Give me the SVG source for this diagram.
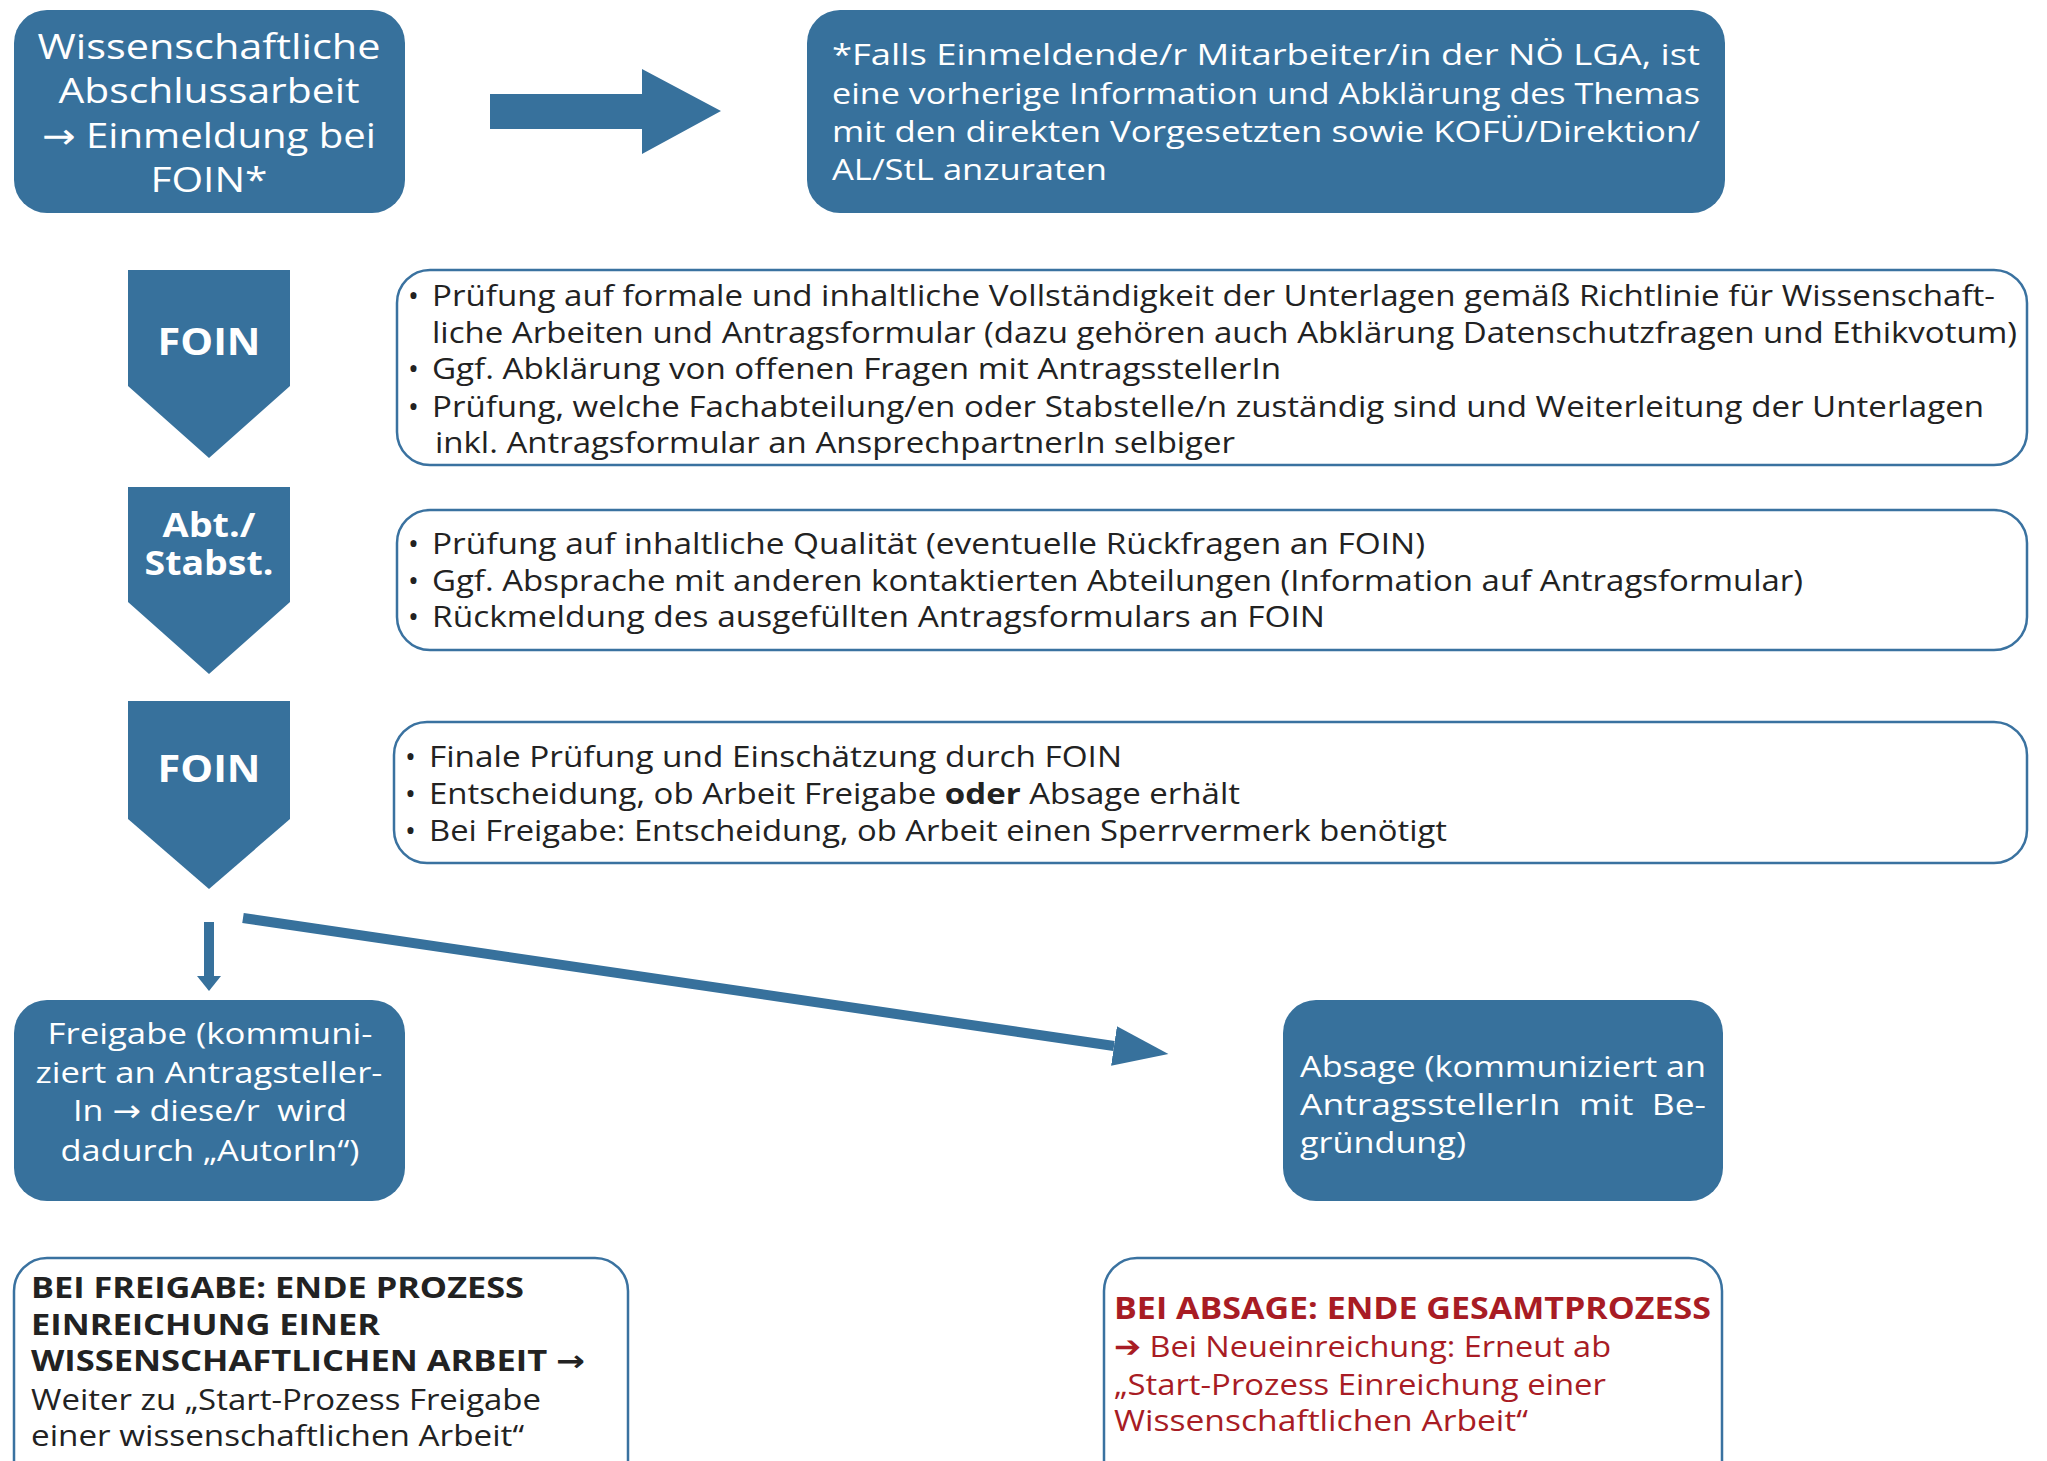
<svg xmlns="http://www.w3.org/2000/svg" width="2047" height="1461" viewBox="0 0 2047 1461">
<style>
.fill{fill:#37719c}
.out{fill:#ffffff;stroke:#3a72a0;stroke-width:2.5}
.w{fill:#ffffff;font-family:"Open Sans","Noto Sans","Liberation Sans",sans-serif}
.d{fill:#222222;font-family:"Open Sans","Noto Sans","Liberation Sans",sans-serif;font-size:29px}
.r{fill:#a81c24;font-family:"Open Sans","Noto Sans","Liberation Sans",sans-serif;font-size:30px}
.b{font-weight:bold}
.ar{font-family:"DejaVu Sans",sans-serif}
.conn{stroke:#37719c;fill:none}
</style>
<defs>
<marker id="hd" markerUnits="userSpaceOnUse" markerWidth="60" markerHeight="50" refX="0" refY="20" orient="auto" viewBox="0 0 60 50">
<path d="M0,0 L55,20 L0,40 Z" fill="#37719c"/>
</marker>
<marker id="hs" markerUnits="userSpaceOnUse" markerWidth="30" markerHeight="30" refX="0" refY="12" orient="auto" viewBox="0 0 30 30">
<path d="M0,0 L15,12 L0,24 Z" fill="#37719c"/>
</marker>
</defs>
<rect width="2047" height="1461" fill="#ffffff"/>

<g id="start">
<rect class="fill" x="14" y="10" width="391" height="203" rx="33"/>
<text class="w" font-size="35" text-anchor="middle" x="209" y="59" textLength="343" lengthAdjust="spacingAndGlyphs">Wissenschaftliche</text>
<text class="w" font-size="35" text-anchor="middle" x="209" y="103" textLength="301" lengthAdjust="spacingAndGlyphs">Abschlussarbeit</text>
<text class="w" font-size="35" text-anchor="middle" x="209" y="148" textLength="334" lengthAdjust="spacingAndGlyphs"><tspan class="ar">→</tspan> Einmeldung bei</text>
<text class="w" font-size="35" text-anchor="middle" x="209" y="192" textLength="117" lengthAdjust="spacingAndGlyphs">FOIN*</text>
</g>

<g id="bigarrow">
<path class="fill" d="M490,94 L642,94 L642,69 L721,111 L642,154 L642,129 L490,129 Z"/>
</g>

<g id="note">
<rect class="fill" x="807" y="10" width="918" height="203" rx="33"/>
<text class="w" font-size="30" x="832" y="65" textLength="868" lengthAdjust="spacingAndGlyphs">*Falls Einmeldende/r Mitarbeiter/in der NÖ LGA, ist</text>
<text class="w" font-size="30" x="832" y="104" textLength="868" lengthAdjust="spacingAndGlyphs">eine vorherige Information und Abklärung des Themas</text>
<text class="w" font-size="30" x="832" y="142" textLength="868" lengthAdjust="spacingAndGlyphs">mit den direkten Vorgesetzten sowie KOFÜ/Direktion/</text>
<text class="w" font-size="30" x="832" y="180" textLength="275" lengthAdjust="spacingAndGlyphs">AL/StL anzuraten</text>
</g>

<g id="foin1">
<path class="fill" d="M128,270 L290,270 L290,386 L209,458 L128,386 Z"/>
<text class="w b" font-size="38" text-anchor="middle" x="209" y="355" textLength="103" lengthAdjust="spacingAndGlyphs">FOIN</text>
</g>

<g id="abt">
<path class="fill" d="M128,487 L290,487 L290,602 L209,674 L128,602 Z"/>
<text class="w b" font-size="34" text-anchor="middle" x="209" y="537" textLength="93" lengthAdjust="spacingAndGlyphs">Abt./</text>
<text class="w b" font-size="34" text-anchor="middle" x="209" y="575" textLength="129" lengthAdjust="spacingAndGlyphs">Stabst.</text>
</g>

<g id="foin2">
<path class="fill" d="M128,701 L290,701 L290,819 L209,889 L128,819 Z"/>
<text class="w b" font-size="38" text-anchor="middle" x="209" y="782" textLength="103" lengthAdjust="spacingAndGlyphs">FOIN</text>
</g>

<g id="info1">
<rect class="out" x="397" y="270" width="1630" height="195" rx="33"/>
<text class="d" x="408" y="306">•</text>
<text class="d" x="432" y="306" textLength="1563" lengthAdjust="spacingAndGlyphs">Prüfung auf formale und inhaltliche Vollständigkeit der Unterlagen gemäß Richtlinie für Wissenschaft-</text>
<text class="d" x="432" y="343" textLength="1585" lengthAdjust="spacingAndGlyphs">liche Arbeiten und Antragsformular (dazu gehören auch Abklärung Datenschutzfragen und Ethikvotum)</text>
<text class="d" x="408" y="379">•</text>
<text class="d" x="432" y="379" textLength="849" lengthAdjust="spacingAndGlyphs">Ggf. Abklärung von offenen Fragen mit AntragsstellerIn</text>
<text class="d" x="408" y="417">•</text>
<text class="d" x="432" y="417" textLength="1552" lengthAdjust="spacingAndGlyphs">Prüfung, welche Fachabteilung/en oder Stabstelle/n zuständig sind und Weiterleitung der Unterlagen</text>
<text class="d" x="435" y="453" textLength="800" lengthAdjust="spacingAndGlyphs">inkl. Antragsformular an AnsprechpartnerIn selbiger</text>
</g>

<g id="info2">
<rect class="out" x="397" y="510" width="1630" height="140" rx="33"/>
<text class="d" x="408" y="554">•</text>
<text class="d" x="432" y="554" textLength="993" lengthAdjust="spacingAndGlyphs">Prüfung auf inhaltliche Qualität (eventuelle Rückfragen an FOIN)</text>
<text class="d" x="408" y="591">•</text>
<text class="d" x="432" y="591" textLength="1371" lengthAdjust="spacingAndGlyphs">Ggf. Absprache mit anderen kontaktierten Abteilungen (Information auf Antragsformular)</text>
<text class="d" x="408" y="627">•</text>
<text class="d" x="432" y="627" textLength="893" lengthAdjust="spacingAndGlyphs">Rückmeldung des ausgefüllten Antragsformulars an FOIN</text>
</g>

<g id="info3">
<rect class="out" x="394" y="722" width="1633" height="141" rx="33"/>
<text class="d" x="405" y="767">•</text>
<text class="d" x="429" y="767" textLength="693" lengthAdjust="spacingAndGlyphs">Finale Prüfung und Einschätzung durch FOIN</text>
<text class="d" x="405" y="804">•</text>
<text class="d" x="429" y="804" textLength="811" lengthAdjust="spacingAndGlyphs">Entscheidung, ob Arbeit Freigabe <tspan class="b">oder</tspan> Absage erhält</text>
<text class="d" x="405" y="841">•</text>
<text class="d" x="429" y="841" textLength="1018" lengthAdjust="spacingAndGlyphs">Bei Freigabe: Entscheidung, ob Arbeit einen Sperrvermerk benötigt</text>
</g>

<g id="connectors">
<line class="conn" x1="209" y1="922" x2="209" y2="976" stroke-width="10" marker-end="url(#hs)"/>
<line class="conn" x1="243" y1="918" x2="1114" y2="1046" stroke-width="10" marker-end="url(#hd)"/>
</g>

<g id="freigabe">
<rect class="fill" x="14" y="1000" width="391" height="201" rx="33"/>
<text class="w" font-size="30" text-anchor="middle" x="210" y="1044" textLength="325" lengthAdjust="spacingAndGlyphs">Freigabe (kommuni-</text>
<text class="w" font-size="30" text-anchor="middle" x="209" y="1083" textLength="347" lengthAdjust="spacingAndGlyphs">ziert an Antragsteller-</text>
<text class="w" font-size="30" text-anchor="middle" x="210" y="1121" textLength="274" lengthAdjust="spacingAndGlyphs" xml:space="preserve">In <tspan class="ar">→</tspan> diese/r  wird</text>
<text class="w" font-size="30" text-anchor="middle" x="210" y="1161" textLength="299" lengthAdjust="spacingAndGlyphs">dadurch „AutorIn“)</text>
</g>

<g id="absage">
<rect class="fill" x="1283" y="1000" width="440" height="201" rx="33"/>
<text class="w" font-size="30" x="1300" y="1077" textLength="406" lengthAdjust="spacingAndGlyphs">Absage (kommuniziert an</text>
<text class="w" font-size="30" x="1300" y="1115" textLength="406" lengthAdjust="spacingAndGlyphs" xml:space="preserve">AntragsstellerIn  mit  Be-</text>
<text class="w" font-size="30" x="1300" y="1153" textLength="166" lengthAdjust="spacingAndGlyphs">gründung)</text>
</g>

<g id="endFreigabe">
<rect class="out" x="14" y="1258" width="614" height="240" rx="33"/>
<text class="d b" font-size="30" x="31" y="1298" textLength="493" lengthAdjust="spacingAndGlyphs">BEI FREIGABE: ENDE PROZESS</text>
<text class="d b" font-size="30" x="31" y="1335" textLength="349" lengthAdjust="spacingAndGlyphs">EINREICHUNG EINER</text>
<text class="d b" font-size="30" x="31" y="1371" textLength="554" lengthAdjust="spacingAndGlyphs">WISSENSCHAFTLICHEN ARBEIT <tspan class="ar">→</tspan></text>
<text class="d" font-size="30" x="31" y="1410" textLength="510" lengthAdjust="spacingAndGlyphs">Weiter zu „Start-Prozess Freigabe</text>
<text class="d" font-size="30" x="31" y="1446" textLength="493" lengthAdjust="spacingAndGlyphs">einer wissenschaftlichen Arbeit“</text>
</g>

<g id="endAbsage">
<rect class="out" x="1104" y="1258" width="618" height="240" rx="33"/>
<text class="r b" x="1114" y="1319" textLength="597" lengthAdjust="spacingAndGlyphs">BEI ABSAGE: ENDE GESAMTPROZESS</text>
<text class="r" x="1114" y="1357" textLength="497" lengthAdjust="spacingAndGlyphs">➔ Bei Neueinreichung: Erneut ab</text>
<text class="r" x="1114" y="1395" textLength="492" lengthAdjust="spacingAndGlyphs">„Start-Prozess Einreichung einer</text>
<text class="r" x="1114" y="1431" textLength="414" lengthAdjust="spacingAndGlyphs">Wissenschaftlichen Arbeit“</text>
</g>
</svg>
